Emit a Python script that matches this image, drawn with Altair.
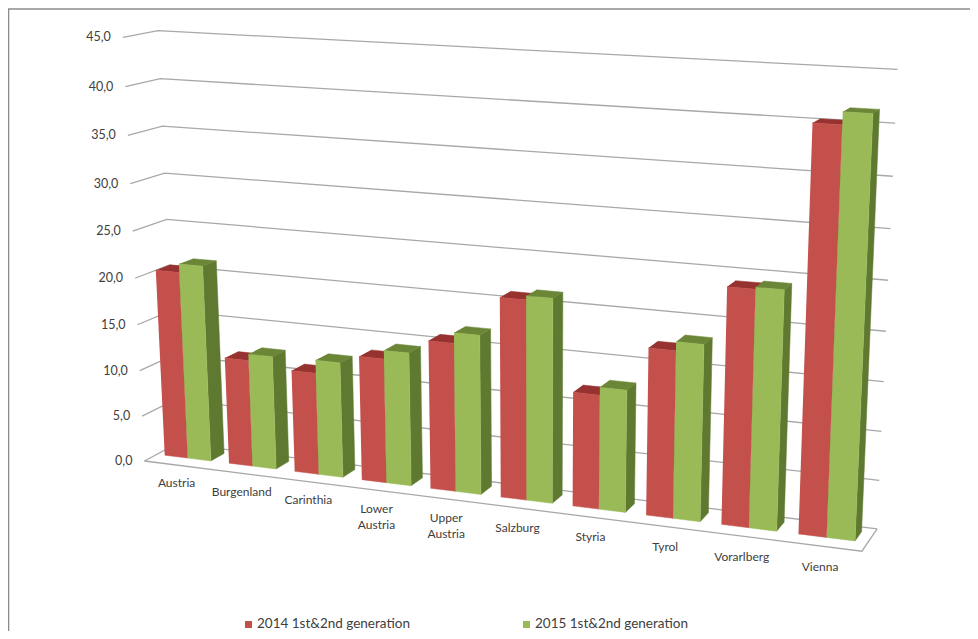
import numpy as np
import pandas as pd
import altair as alt

categories = ["Austria", "Burgenland", "Carinthia", "Lower\nAustria", "Upper\nAustria",
              "Salzburg", "Styria", "Tyrol", "Vorarlberg", "Vienna"]
series_2014 = [20.4, 11.6, 11.0, 13.3, 15.7, 20.9, 11.9, 17.2, 24.0, 40.2]
series_2015 = [21.3, 12.3, 12.4, 14.2, 16.8, 21.3, 12.7, 18.1, 24.2, 41.4]
ticks = [0, 5, 10, 15, 20, 25, 30, 35, 40, 45]
tick_labels = ["0,0", "5,0", "10,0", "15,0", "20,0", "25,0", "30,0", "35,0", "40,0", "45,0"]
legend_names = ["2014 1st&2nd generation", "2015 1st&2nd generation"]

# perspective camera: (category slot, value, depth) -> page pixel, fitted to the reference's frame
anchors = [
    (0, 0, 0, 143, 458), (10, 0, 0, 863, 553), (0, 0, 1, 178, 448), (10, 0, 1, 876, 527),
    (0, 45, 0, 122, 40), (0, 45, 1, 157, 30), (10, 45, 1, 898, 69), (10, 25, 1, 887, 280),
    (0, 25, 0, 134, 230), (0, 25, 1, 168, 217), (10, 40, 1, 896, 124),
]
A, b = [], []
for X, Y, Z, px, py in anchors:
    A.append([X, Y, Z, 1, 0, 0, 0, 0, -px * X, -px * Y, -px * Z]); b.append(px)
    A.append([0, 0, 0, 0, X, Y, Z, 1, -py * X, -py * Y, -py * Z]); b.append(py)
h = np.linalg.lstsq(np.array(A, float), np.array(b, float), rcond=None)[0]
M = np.append(h, 1).reshape(3, 4)


def P(X, Y, Z):
    u, v, w = M @ np.array([X, Y, Z, 1.0])
    return float(u / w), float(v / w)


RED, RED_TOP = "#C4504C", "#96322F"
GREEN, GREEN_SIDE, GREEN_TOP = "#99BA56", "#5F7A30", "#6A8636"
RED_SIDE = "#8E2F2C"
Z0, Z1 = 0.38, 0.80

rows = []
pid = 0


def poly(pts, color):
    global pid
    for k, (X, Y, Z) in enumerate(pts):
        x, y = P(X, Y, Z)
        rows.append(dict(x=x, y=y, pid=pid, k=k, color=color))
    pid += 1


for i in range(len(categories)):
    for off, val, front, top, side in (
        (0.12, series_2014[i], RED, RED_TOP, RED_SIDE),
        (0.48, series_2015[i], GREEN, GREEN_TOP, GREEN_SIDE),
    ):
        x0, x1 = i + off, i + off + 0.36
        poly([(x1, 0, Z0), (x1, 0, Z1), (x1, val, Z1), (x1, val, Z0)], side)
        poly([(x0, val, Z0), (x1, val, Z0), (x1, val, Z1), (x0, val, Z1)], top)
        poly([(x0, 0, Z0), (x1, 0, Z0), (x1, val, Z0), (x0, val, Z0)], front)
bars = pd.DataFrame(rows)

lines = []
lid = 0
for t in ticks:
    for k, pt in enumerate([(0, t, 0), (0, t, 1), (10, t, 1)]):
        x, y = P(*pt)
        lines.append(dict(x=x, y=y, lid=lid, k=k))
    lid += 1
for k, pt in enumerate([(0, 0, 0), (10, 0, 0), (10, 0, 1)]):
    x, y = P(*pt)
    lines.append(dict(x=x, y=y, lid=lid, k=k))
grid = pd.DataFrame(lines)

tick_df = pd.DataFrame([
    dict(x=P(0, t, 0)[0] - 12, y=P(0, t, 0)[1], label=l) for t, l in zip(ticks, tick_labels)
])
cat_df = pd.DataFrame([
    dict(x=P(i + 0.5, 0, 0)[0] - 0.2 * i, y=P(i + 0.5, 0, 0)[1] + 13 + 0.3 * i, label=c)
    for i, c in enumerate(categories)
])
leg_sq = pd.DataFrame(dict(x=[248.5, 526.5], y=[624.5, 624.5], color=[RED, GREEN]))
leg_tx = pd.DataFrame(dict(x=[257, 535], y=[624, 624], label=legend_names))
frame = pd.DataFrame(dict(x=[8.5, 8.5, 970], y=[631, 9, 9], k=[0, 1, 2]))

sx = alt.Scale(domain=[8, 970], range=[0, 962])
sy = alt.Scale(domain=[8, 631], range=[0, 623])
X = alt.X("x:Q", scale=sx, axis=None)
Y = alt.Y("y:Q", scale=sy, axis=None)

FONT = "Lato"
chart = alt.layer(
    alt.Chart(frame).mark_line(color="#8C8C8C", strokeWidth=1.6).encode(X, Y, order="k:Q"),
    alt.Chart(grid).mark_line(color="#A8A8A8", strokeWidth=1.3).encode(X, Y, detail="lid:N", order="k:Q"),
    alt.Chart(bars).mark_line(strokeWidth=0.5).encode(
        X, Y, detail="pid:N", order="k:Q",
        fill=alt.Fill("color:N", scale=None), stroke=alt.Stroke("color:N", scale=None)),
    alt.Chart(tick_df).mark_text(align="right", baseline="middle", font=FONT, fontSize=12.5, color="#404040").encode(X, Y, text="label:N"),
    alt.Chart(cat_df).mark_text(align="center", baseline="top", font=FONT, fontSize=12, color="#404040", lineBreak="\n", lineHeight=16).encode(X, Y, text="label:N"),
    alt.Chart(leg_sq).mark_square(size=49, opacity=1).encode(X, Y, color=alt.Color("color:N", scale=None)),
    alt.Chart(leg_tx).mark_text(align="left", baseline="middle", font=FONT, fontSize=13.5, color="#404040").encode(X, Y, text="label:N"),
).properties(width=962, height=623, padding=0, autosize="none", background="white").configure_view(stroke=None)

chart.save("out.html", embed_options={"renderer": "svg", "actions": False})
